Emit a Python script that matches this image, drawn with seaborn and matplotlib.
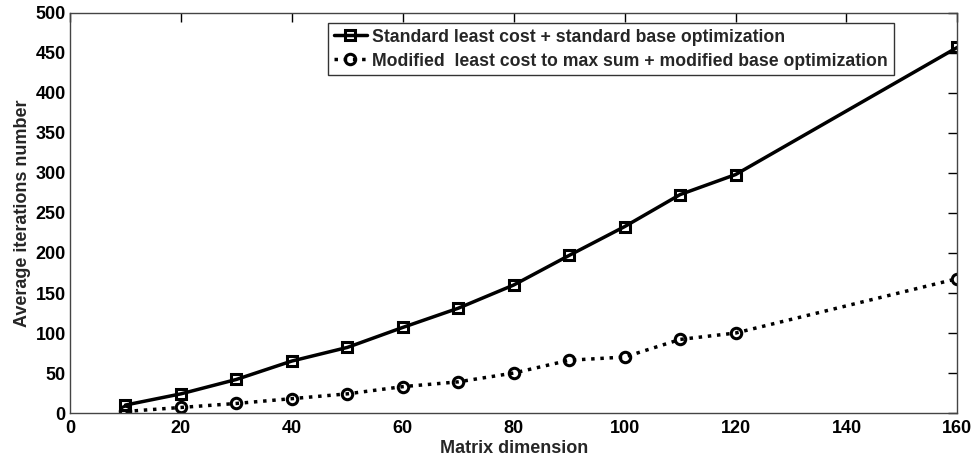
import matplotlib
matplotlib.use('Agg')
import matplotlib.pyplot as plt
import seaborn as sns

# Data
matrix_dim = [10, 20, 30, 40, 50, 60, 70, 80, 90, 100, 110, 120, 160]
standard_iters = [10, 24, 42, 65, 82, 107, 131, 160, 197, 233, 273, 298, 457]
modified_iters = [2, 7, 12, 18, 24, 33, 39, 50, 66, 70, 92, 100, 168]

label_std = 'Standard least cost + standard base optimization'
label_mod = 'Modified  least cost to max sum + modified base optimization'

sns.set_style('white')
plt.rcParams['font.family'] = ['Liberation Sans', 'DejaVu Sans']
plt.rcParams['font.weight'] = 'bold'

fig = plt.figure(figsize=(9.72, 4.61), dpi=100)
ax = fig.add_axes([0.072, 0.104, 0.913, 0.868])

# Both series in black, hollow markers
sns.lineplot(x=matrix_dim, y=standard_iters, ax=ax, color='black', linewidth=2.5,
             marker='s', markersize=7.5, markerfacecolor='none', markeredgewidth=2.2,
             markeredgecolor='black', label=label_std)
sns.lineplot(x=matrix_dim, y=modified_iters, ax=ax, color='black', linewidth=2.5,
             linestyle=':', marker='o', markersize=7.5, markerfacecolor='none',
             markeredgewidth=2.2, markeredgecolor='black', label=label_mod)

# Axes, ticks (inward on all sides)
ax.set_xlim(0, 160)
ax.set_ylim(0, 500)
ax.set_xticks(range(0, 161, 20))
ax.set_yticks(range(0, 501, 50))
ax.tick_params(direction='in', top=True, right=True, length=6.5, width=1,
               labelsize=13, colors='black')
ax.tick_params(axis='x', pad=5)
ax.tick_params(axis='y', pad=3)
for lab in ax.get_xticklabels() + ax.get_yticklabels():
    lab.set_fontweight('bold')
for sp in ax.spines.values():
    sp.set_color('#444444')
    sp.set_linewidth(1)

ax.set_xlabel('Matrix dimension', fontsize=13, fontweight='bold', labelpad=2)
ax.set_ylabel('Average iterations number', fontsize=13, fontweight='bold', labelpad=3)

# Legend
leg = ax.legend(loc='upper right', bbox_to_anchor=(0.928, 0.974), borderaxespad=0,
                fontsize=12.7, handlelength=1.9, handletextpad=0.3, frameon=True,
                fancybox=False, edgecolor='#333333', framealpha=1,
                borderpad=0.3, labelspacing=0.4)
leg.get_frame().set_linewidth(1)
for t in leg.get_texts():
    t.set_fontweight('bold')

fig.savefig('out.png', dpi=100)
